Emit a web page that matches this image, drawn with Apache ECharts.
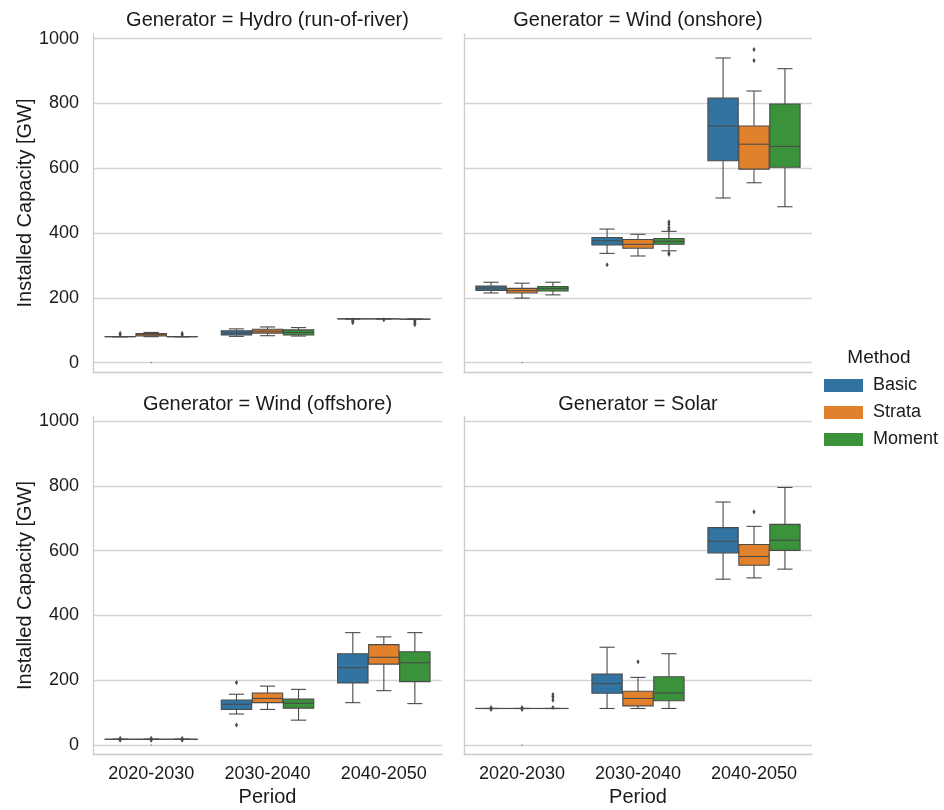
<!DOCTYPE html>
<html>
<head>
<meta charset="utf-8">
<script src="https://cdn.jsdelivr.net/npm/echarts@6/dist/echarts.min.js"></script>
<style>
  html, body { margin: 0; padding: 0; background: #ffffff; }
  #chart { width: 944px; height: 810px; }
</style>
</head>
<body>
<div id="chart"></div>
<script>
// Installed capacity per generator, period and method (box statistics).
const periods = ['2020-2030', '2030-2040', '2040-2050'];
const methods = ['Basic', 'Strata', 'Moment'];
const generators = ['Hydro (run-of-river)', 'Wind (onshore)', 'Wind (offshore)', 'Solar'];
const yTicks = [0, 200, 400, 600, 800, 1000];

// [lower whisker, Q1, median, Q3, upper whisker] for each period
const hydroBasic  = [[80, 80, 80, 80, 80], [81, 85, 91, 98, 104], [135, 135, 135, 135, 135]];
const hydroStrata = [[80, 82, 86, 90, 93], [83, 91, 97, 103, 110], [135, 135, 135, 135, 135]];
const hydroMoment = [[80, 80, 80, 80, 80], [82, 85, 93, 101, 108], [134, 134, 134, 134, 134]];

const onshoreBasic  = [[215, 223, 230, 236, 248], [337, 363, 376, 386, 412], [508, 623, 730, 816, 940]];
const onshoreStrata = [[199, 215, 222, 229, 245], [329, 353, 365, 380, 396], [555, 597, 674, 730, 838]];
const onshoreMoment = [[209, 221, 229, 235, 248], [345, 365, 374, 383, 405], [481, 603, 667, 798, 907]];

const offshoreBasic  = [[18, 18, 18, 18, 18], [96, 110, 126, 139, 157], [131, 192, 239, 282, 347]];
const offshoreStrata = [[18, 18, 18, 18, 18], [110, 131, 144, 161, 182], [168, 250, 271, 310, 334]];
const offshoreMoment = [[18, 18, 18, 18, 18], [77, 114, 129, 142, 172], [128, 196, 254, 288, 347]];

const solarBasic  = [[113, 113, 113, 113, 113], [113, 160, 190, 219, 302], [512, 593, 629, 671, 750]];
const solarStrata = [[113, 113, 113, 113, 113], [113, 121, 144, 166, 209], [516, 555, 582, 619, 675]];
const solarMoment = [[113, 113, 113, 113, 113], [113, 137, 161, 211, 282], [543, 601, 632, 681, 795]];

// Outliers: [period index, method index, value]
const hydroFliers = [[0, 0, 86], [0, 0, 90], [0, 2, 85], [0, 2, 90],
  [2, 0, 131], [2, 0, 127], [2, 0, 123], [2, 1, 132],
  [2, 2, 130], [2, 2, 126], [2, 2, 121], [2, 2, 117]];
const onshoreFliers = [[1, 0, 302], [1, 2, 410], [1, 2, 417], [1, 2, 427], [1, 2, 434],
  [1, 2, 338], [1, 2, 334], [2, 1, 932], [2, 1, 966]];
const offshoreFliers = [[0, 0, 21], [0, 0, 15], [0, 1, 21], [0, 1, 15], [0, 2, 21], [0, 2, 15],
  [1, 0, 193], [1, 0, 62]];
const solarFliers = [[0, 0, 116], [0, 0, 110], [0, 1, 116], [0, 1, 110], [0, 2, 116],
  [0, 2, 139], [0, 2, 149], [0, 2, 156], [1, 1, 257], [2, 1, 720]];

// Zero-valued points: [period index, method index, value]
const zeroPoints = [[0, 1, 0]];

const boxStats = [
  [hydroBasic, hydroStrata, hydroMoment],
  [onshoreBasic, onshoreStrata, onshoreMoment],
  [offshoreBasic, offshoreStrata, offshoreMoment],
  [solarBasic, solarStrata, solarMoment]
];
const fliers = [hydroFliers, onshoreFliers, offshoreFliers, solarFliers];

const colors = ['#3274a1', '#e1812c', '#3a923a'];
const lineGray = '#4a4a4a';
const textColor = '#1a1a1a';
const fontFamily = '"Liberation Sans", Arial, Helvetica, sans-serif';

const grids = [
  { left: 93, top: 34, width: 349, height: 338 },
  { left: 464, top: 34, width: 348, height: 338 },
  { left: 93, top: 416.5, width: 349, height: 338 },
  { left: 464, top: 416.5, width: 348, height: 338 }
];

// horizontal centre of a hue group within a category band
function hueCenter(api, cat, hue) {
  const band = api.size([1, 0])[0];
  return api.coord([cat, 0])[0] + (hue - 1) * band * 0.8 / 3;
}

function boxRenderer(hue) {
  return function (params, api) {
    const cat = api.value(0);
    const band = api.size([1, 0])[0];
    const w = band * 0.8 / 3 * 0.98;
    const cx = hueCenter(api, cat, hue);
    const y = [1, 2, 3, 4, 5].map(function (d) { return api.coord([cat, api.value(d)])[1]; });
    const lineStyle = { stroke: lineGray, lineWidth: 1.1 };
    return {
      type: 'group',
      children: [
        { type: 'line', shape: { x1: cx, y1: y[0], x2: cx, y2: y[1] }, style: lineStyle },
        { type: 'line', shape: { x1: cx, y1: y[3], x2: cx, y2: y[4] }, style: lineStyle },
        { type: 'line', shape: { x1: cx - w / 4, y1: y[0], x2: cx + w / 4, y2: y[0] }, style: lineStyle },
        { type: 'line', shape: { x1: cx - w / 4, y1: y[4], x2: cx + w / 4, y2: y[4] }, style: lineStyle },
        { type: 'rect', shape: { x: cx - w / 2, y: y[3], width: w, height: Math.max(y[1] - y[3], 0.01) },
          style: { fill: colors[hue], stroke: lineGray, lineWidth: 1.1 } },
        { type: 'line', shape: { x1: cx - w / 2, y1: y[2], x2: cx + w / 2, y2: y[2] }, style: lineStyle }
      ]
    };
  };
}

function flierRenderer(size) {
  return function (params, api) {
    const cat = api.value(0);
    const hue = api.value(1);
    const cx = hueCenter(api, cat, hue);
    const cy = api.coord([cat, api.value(2)])[1];
    const h = size, hw = size * 0.6;
    return {
      type: 'polygon',
      shape: { points: [[cx, cy - h], [cx + hw, cy], [cx, cy + h], [cx - hw, cy]] },
      style: { fill: lineGray, stroke: null }
    };
  };
}

const xAxes = [], yAxes = [], series = [], graphics = [];
generators.forEach(function (gen, g) {
  const isBottom = g >= 2;
  const isLeft = g % 2 === 0;
  xAxes.push({
    type: 'category', gridIndex: g, data: periods,
    axisLine: { show: true, onZero: false, lineStyle: { color: '#cccccc', width: 1.3 } },
    axisTick: { show: false },
    axisLabel: { show: isBottom, fontSize: 18, color: textColor, fontFamily: fontFamily, margin: 11 },
    splitLine: { show: false },
    name: isBottom ? 'Period' : '',
    nameLocation: 'middle', nameGap: 33,
    nameTextStyle: { fontSize: 20, color: textColor, fontFamily: fontFamily }
  });
  yAxes.push({
    type: 'value', gridIndex: g, min: -29, max: 1014,
    axisLine: { show: true, lineStyle: { color: '#cccccc', width: 1.3 } },
    axisTick: { show: false, customValues: yTicks },
    axisLabel: { show: isLeft, customValues: yTicks, fontSize: 18, color: textColor, fontFamily: fontFamily,
      margin: 14, formatter: function (v) { return String(v); } },
    splitLine: { show: true, lineStyle: { color: '#d3d3d3', width: 1.3 } },
    name: isLeft ? 'Installed Capacity [GW]' : '',
    nameLocation: 'middle', nameGap: 56,
    nameTextStyle: { fontSize: 20, color: textColor, fontFamily: fontFamily }
  });
  methods.forEach(function (m, h) {
    series.push({
      type: 'custom', name: m, xAxisIndex: g, yAxisIndex: g,
      itemStyle: { color: colors[h] },
      renderItem: boxRenderer(h),
      encode: { x: 0, y: [1, 2, 3, 4, 5] },
      data: boxStats[g][h].map(function (s, p) { return [p].concat(s); }),
      silent: true, z: 2
    });
  });
  series.push({
    type: 'custom', name: 'outliers', xAxisIndex: g, yAxisIndex: g,
    renderItem: flierRenderer(2.6),
    encode: { x: 0, y: 2 },
    data: fliers[g], silent: true, z: 3
  });
  series.push({
    type: 'custom', name: 'zeros', xAxisIndex: g, yAxisIndex: g,
    renderItem: flierRenderer(0.9),
    encode: { x: 0, y: 2 },
    data: zeroPoints, silent: true, z: 3
  });
  const gr = grids[g];
  graphics.push({
    type: 'text', x: gr.left + gr.width / 2, y: isBottom ? 404 : 20,
    style: { text: 'Generator = ' + gen, fontSize: 20, fill: textColor, fontFamily: fontFamily,
      textAlign: 'center', textVerticalAlign: 'middle' }
  });
});

graphics.push({
  type: 'text', x: 879, y: 358,
  style: { text: 'Method', fontSize: 19, fill: textColor, fontFamily: fontFamily,
    textAlign: 'center', textVerticalAlign: 'middle' }
});

const chart = echarts.init(document.getElementById('chart'), null, { renderer: 'canvas' });
chart.setOption({
  animation: false,
  backgroundColor: '#ffffff',
  grid: grids,
  xAxis: xAxes,
  yAxis: yAxes,
  legend: {
    data: methods, orient: 'vertical', left: 819, top: 371.5,
    icon: 'rect', itemWidth: 39, itemHeight: 13, itemGap: 9,
    textStyle: { fontSize: 18, color: textColor, fontFamily: fontFamily, lineHeight: 18, padding: [0, 0, 0, 5] },
    selectedMode: false
  },
  graphic: graphics,
  series: series
});
</script>
</body>
</html>
